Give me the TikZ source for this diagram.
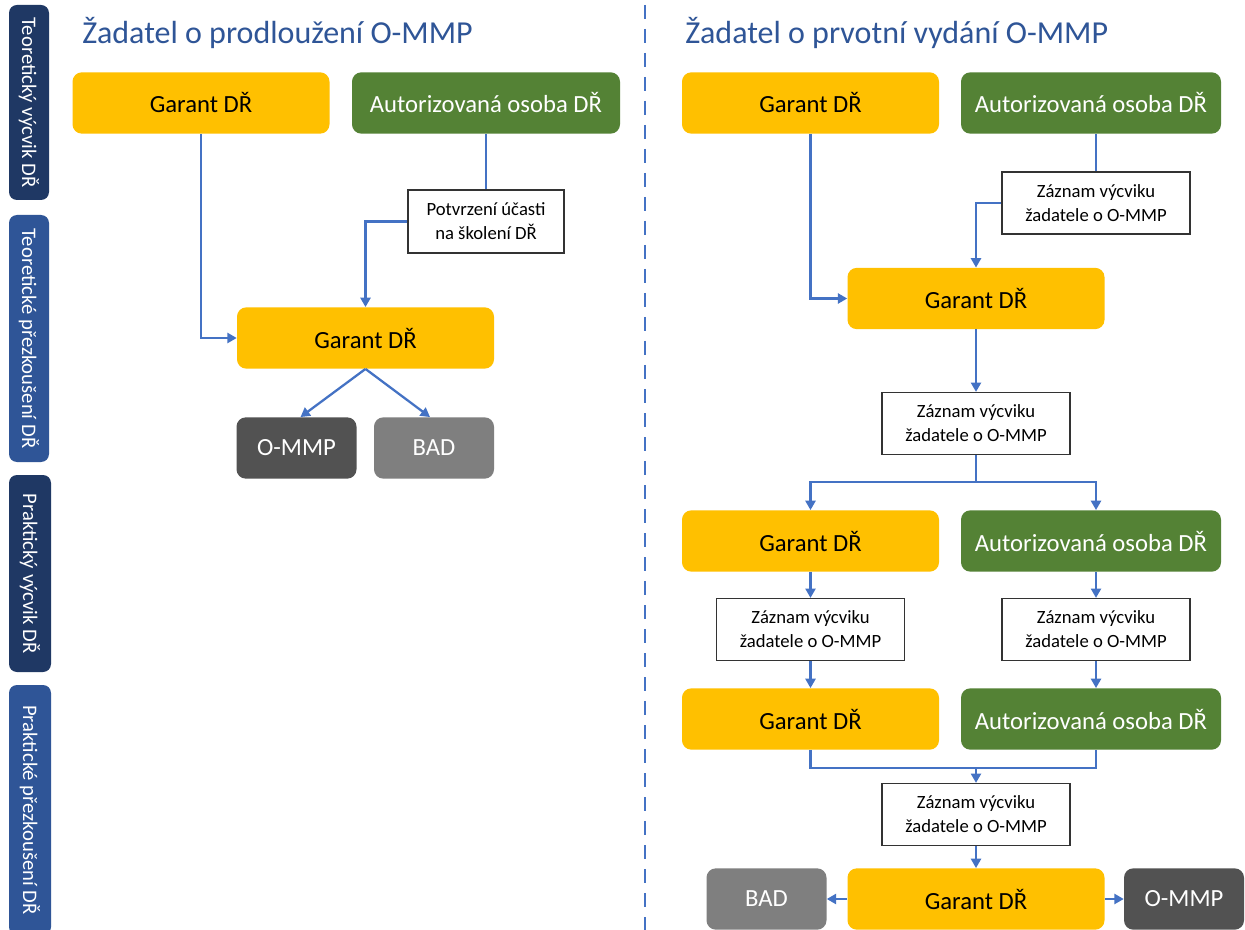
\documentclass[tikz,border=0pt]{standalone}
\usepackage{fontspec}
\setmainfont{Carlito}
\usetikzlibrary{arrows.meta,calc}
\definecolor{ylw}{HTML}{FFC000}
\definecolor{grn}{HTML}{548235}
\definecolor{dgray}{HTML}{525252}
\definecolor{mgray}{HTML}{7F7F7F}
\definecolor{conblue}{HTML}{4472C4}
\definecolor{navy}{HTML}{1F3864}
\definecolor{sblue}{HTML}{2F5597}
\definecolor{ttl}{HTML}{2F5597}
\begin{document}
\begin{tikzpicture}[x=0.75pt,y=-0.75pt,
  box/.style={rounded corners=7pt,inner sep=0pt,minimum height=46pt,font=\fontsize{18.5}{20}\selectfont},
  garant/.style={box,fill=ylw,text=black,minimum width=192.75pt},
  auth/.style={box,fill=grn,text=white,minimum width=195pt},
  res/.style={box,fill=#1,text=white,minimum width=90pt},
  note/.style={draw=black!80,line width=0.9pt,fill=white,inner sep=0pt,align=center,minimum height=46.5pt,font=\fontsize{14}{18}\selectfont},
  side/.style={rounded corners=6pt,fill=#1,text=white,rotate=-90,inner sep=0pt,font=\fontsize{15.5}{17}\selectfont},
  ttlstyle/.style={anchor=west,inner sep=0pt,text=ttl,font=\fontsize{24}{26}\selectfont},
  conn/.style={draw=conblue,line width=1.7pt,-{Triangle[length=7pt,width=7.5pt]}},
  plain/.style={draw=conblue,line width=1.7pt}
]
\useasboundingbox (0,0) rectangle (1245,930);
\fill[white] (0,0) rectangle (1245,930);

% sidebars
\node[side=navy,minimum width=146.25pt,minimum height=30pt] (s1) at (29,102.5) {Teoretický výcvik DŘ};
\node[side=sblue,minimum width=185.25pt,minimum height=30pt] (s2) at (29,338.5) {Teoretické přezkoušení DŘ};
\node[side=navy,minimum width=147.75pt,minimum height=31.5pt] (s3) at (30,573.5) {Praktický výcvik DŘ};
\node[side=sblue,minimum width=187.5pt,minimum height=31.5pt] (s4) at (30,810) {Praktické přezkoušení DŘ};

% divider
\draw[conblue,line width=2.2pt,dash pattern=on 10.5pt off 7.5pt] (645,5) coordinate (d1) -- (645,930) coordinate (d2);

% titles
\node[ttlstyle] (t1) at (82,33) {Žadatel o prodloužení O-MMP};
\node[ttlstyle] (t2) at (685,33) {Žadatel o prvotní vydání O-MMP};

% left panel
\node[garant] (lg1) at (201,103) {Garant DŘ};
\node[auth,minimum width=201pt] (la1) at (486,103) {Autorizovaná osoba DŘ};
\node[note,minimum width=117pt,minimum height=47.25pt] (ln1) at (486,221.5) {Potvrzení účasti\\na školení DŘ};
\node[garant] (lg2) at (365.5,338) {Garant DŘ};
\node[res=dgray] (lommp) at (296.5,448) {O-MMP};
\node[res=mgray] (lbad) at (434,448) {BAD};

\draw[conn] (lg1.south) |- (lg2.west);
\draw[plain] (la1.south) -- (ln1.north);
\draw[conn] (ln1.west) -| (lg2.north);
\draw[conn] (lg2.south) -- ($(lommp.north)+(4,0)$);
\draw[conn] (lg2.south) -- ($(lbad.north)+(-4,0)$);

% right panel
\node[garant] (rg1) at (810.5,103) {Garant DŘ};
\node[auth] (ra1) at (1091,103) {Autorizovaná osoba DŘ};
\node[note,minimum width=141pt] (rn1) at (1096,203) {Záznam výcviku\\žadatele o O-MMP};
\node[garant] (rg2) at (976,298.5) {Garant DŘ};
\node[note,minimum width=141pt] (rn2) at (976,423.5) {Záznam výcviku\\žadatele o O-MMP};
\node[garant] (rg3) at (810.5,541) {Garant DŘ};
\node[auth] (ra3) at (1091,541) {Autorizovaná osoba DŘ};
\node[note,minimum width=141pt] (rn3) at (810.5,629.5) {Záznam výcviku\\žadatele o O-MMP};
\node[note,minimum width=141pt] (rn4) at (1096,629.5) {Záznam výcviku\\žadatele o O-MMP};
\node[garant] (rg4) at (810.5,719) {Garant DŘ};
\node[auth] (ra4) at (1091,719) {Autorizovaná osoba DŘ};
\node[note,minimum width=141pt] (rn5) at (976,814.5) {Záznam výcviku\\žadatele o O-MMP};
\node[garant] (rg5) at (976,899) {Garant DŘ};
\node[res=mgray] (rbad) at (766.5,899) {BAD};
\node[res=dgray] (rommp) at (1184,899) {O-MMP};

\draw[conn] (rg1.south) |- (rg2.west);
\draw[plain] (rn1.north |- ra1.south) -- (rn1.north);
\draw[conn] (rn1.west) -| (rg2.north);
\draw[conn] (rg2.south) -- (rn2.north);
\path (rn2.south) ++(0,27) coordinate (sp);
\draw[plain] (rn2.south) -- (sp);
\draw[conn] (sp) -| (rg3.north);
\draw[conn] (sp) -| (ra3.north -| rn4.north);
\draw[conn] (rg3.south) -- (rn3.north);
\draw[conn] (rn3.south) -- (rg4.north);
\draw[conn] (ra3.south -| rn4.north) -- (rn4.north);
\draw[conn] (rn4.south) -- (ra4.north -| rn4.north);
\path (rg4.south) ++(0,18) coordinate (mg);
\draw[plain] (rg4.south) -- (mg) -| (ra4.south -| rn4.north);
\draw[conn] (mg -| rn5.north) -- (rn5.north);
\draw[conn] (rn5.south) -- (rg5.north);
\draw[conn] (rg5.west) -- (rbad.east);
\draw[conn] (rg5.east) -- (rommp.west);
\end{tikzpicture}
\end{document}
